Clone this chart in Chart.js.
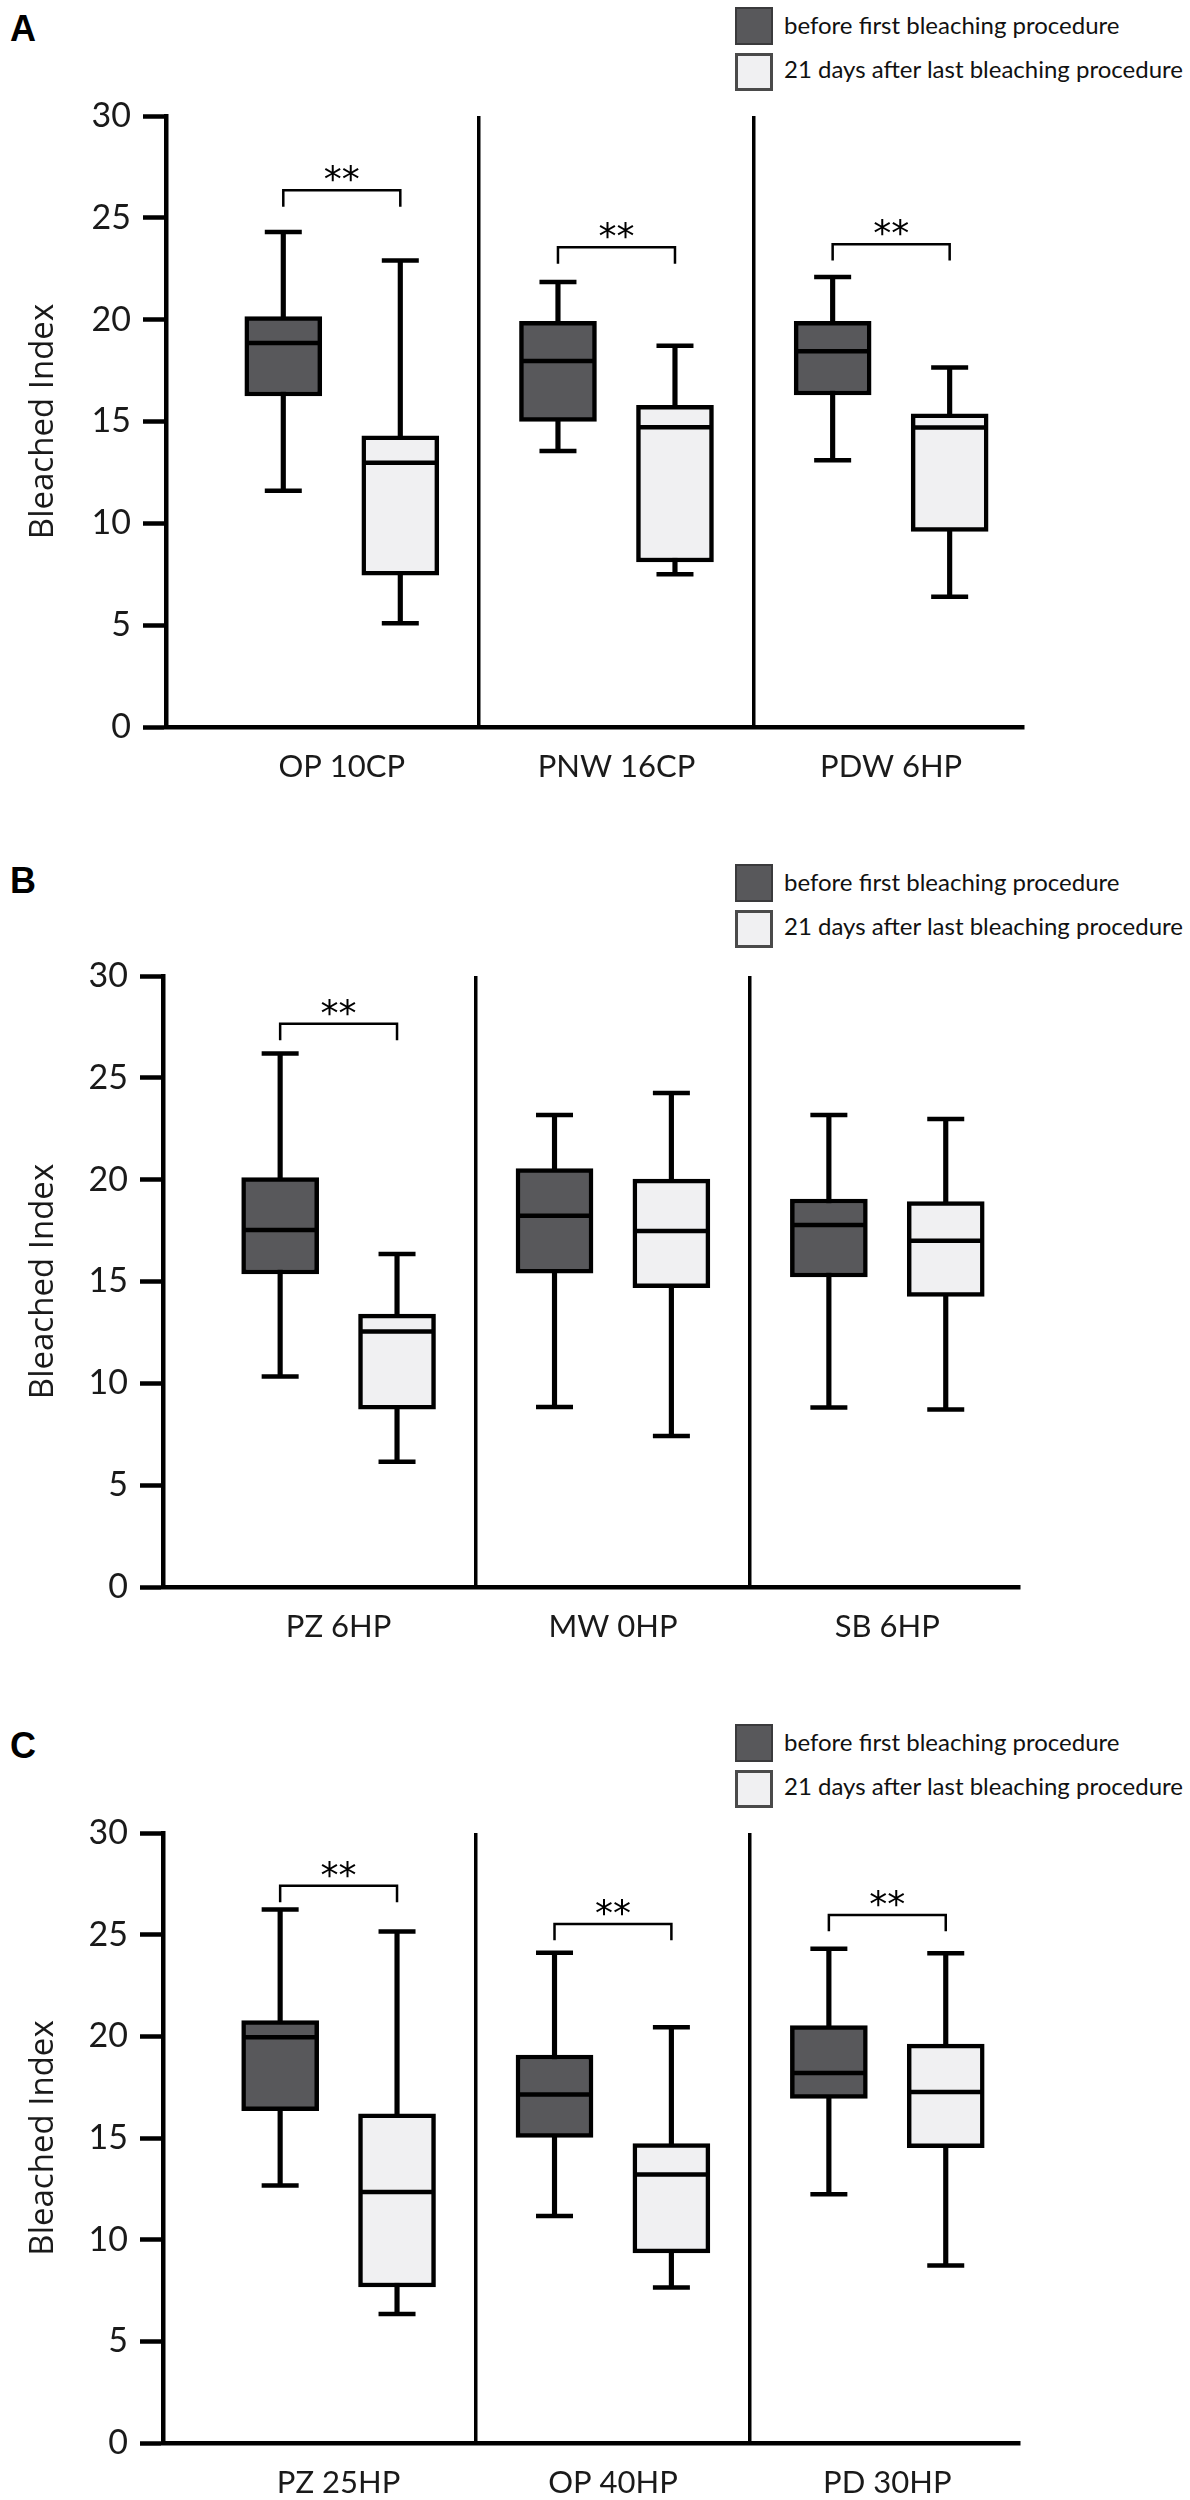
<!DOCTYPE html>
<html>
<head>
<meta charset="utf-8">
<script src="https://cdn.jsdelivr.net/npm/chart.js@4.4.1/dist/chart.umd.min.js"></script>
<style>
  html, body { margin: 0; padding: 0; background: #fff; overflow: hidden; }
  #page { position: relative; width: 1190px; height: 2500px; }
  canvas { position: absolute; left: 0; }
  .letter { position: absolute; left: 10px; font: bold 36px 'Liberation Sans', Arial, sans-serif; line-height: 36px; color: #000; }
  .swatch { position: absolute; width: 38px; height: 38px; box-sizing: border-box; }
  .swatch.before { background: #58585b; border: 2px solid #3a3a3c; }
  .swatch.after { background: #f0f0f2; border: 3px solid #4a4a4a; }
  .legend-text { position: absolute; left: 784px; font-family: Lato, sans-serif; font-size: 24px; line-height: 24px; color: #111; white-space: nowrap; }
</style>
</head>
<body>
<div id="page"></div>
<script>
const legendLabels = ['before first bleaching procedure', '21 days after last bleaching procedure'];
const panelLetters = ['A', 'B', 'C'];
const groupPositions = [1, 2, 3];
const separators = [1.5, 2.5];

// each box: [min, q1, median, q3, max]
const categoriesA = ['OP 10CP', 'PNW 16CP', 'PDW 6HP'];
const beforeA = [[11.6, 16.25, 18.85, 20.15, 24.3], [13.55, 15.0, 17.97, 19.92, 21.85], [13.1, 16.3, 18.45, 19.92, 22.1]];
const afterA = [[5.1, 7.45, 12.98, 14.3, 22.9], [7.5, 8.1, 14.72, 15.8, 18.72], [6.4, 9.6, 14.7, 15.38, 17.65]];
const signifA = [26.35, 23.55, 23.7];

const categoriesB = ['PZ 6HP', 'MW 0HP', 'SB 6HP'];
const beforeB = [[10.33, 15.37, 17.53, 20.1, 26.19], [8.84, 15.41, 18.23, 20.54, 23.17], [8.81, 15.22, 17.77, 19.05, 23.18]];
const afterB = [[6.15, 8.73, 12.55, 13.4, 16.35], [7.41, 14.7, 17.48, 20.03, 24.25], [8.72, 14.27, 17.0, 18.93, 22.98]];
const signifB = [27.65, null, null];

const categoriesC = ['PZ 25HP', 'OP 40HP', 'PD 30HP'];
const beforeC = [[12.67, 16.35, 19.96, 20.77, 26.24], [11.17, 15.03, 17.14, 19.08, 24.11], [12.23, 16.95, 18.2, 20.53, 24.31]];
const afterC = [[6.35, 7.67, 12.35, 16.19, 25.16], [7.65, 9.35, 13.21, 14.72, 20.45], [8.73, 14.53, 17.26, 19.62, 24.09]];
const signifC = [27.4, 25.53, 25.97];

const panels = [
  { cats: categoriesA, before: beforeA, after: afterA, signif: signifA },
  { cats: categoriesB, before: beforeB, after: afterB, signif: signifB },
  { cats: categoriesC, before: beforeC, after: afterC, signif: signifC },
];

// where each plot area sits on the page
const frames = [
  { top: 116, bottom: 727, left: 166, right: 1023, legendTop: 7, letterTop: 11 },
  { top: 976, bottom: 1587, left: 163, right: 1019, legendTop: 864, letterTop: 863 },
  { top: 1833, bottom: 2443, left: 163, right: 1019, legendTop: 1724, letterTop: 1728 },
];

const boxOffset = 0.213;
const darkFill = '#58585b';
const lightFill = '#f0f0f2';
const ink = '#000';
const CANVAS_H = 780;
const X_AXIS_H = 50;

const bracketPlugin = {
  id: 'brackets',
  afterDatasetsDraw(chart, args, opts) {
    const { ctx, scales: { x, y } } = chart;
    ctx.save();
    ctx.strokeStyle = ink;
    ctx.fillStyle = ink;
    ctx.lineWidth = 2.5;
    ctx.font = '36px "DejaVu Sans"';
    ctx.textAlign = 'center';
    ctx.textBaseline = 'alphabetic';
    opts.values.forEach((v, i) => {
      if (v === null) return;
      const x1 = x.getPixelForValue(groupPositions[i] - boxOffset);
      const x2 = x.getPixelForValue(groupPositions[i] + boxOffset);
      const yTop = y.getPixelForValue(v);
      const yEnd = y.getPixelForValue(v - opts.drop);
      ctx.beginPath();
      ctx.moveTo(x1, yEnd);
      ctx.lineTo(x1, yTop);
      ctx.lineTo(x2, yTop);
      ctx.lineTo(x2, yEnd);
      ctx.stroke();
      ctx.fillText('**', (x1 + x2) / 2, yTop + 1);
    });
    ctx.restore();
  }
};

const page = document.getElementById('page');

function addDiv(cls, top, text) {
  const d = document.createElement('div');
  d.className = cls;
  d.style.top = top + 'px';
  if (text) d.textContent = text;
  page.appendChild(d);
  return d;
}

function buildPanel(p, frame, idx) {
  addDiv('letter', frame.letterTop, panelLetters[idx]);
  addDiv('swatch before', frame.legendTop).style.left = '735px';
  addDiv('swatch after', frame.legendTop + 46).style.left = '735px';
  addDiv('legend-text', frame.legendTop + 6, legendLabels[0]);
  addDiv('legend-text', frame.legendTop + 50, legendLabels[1]);

  const canvas = document.createElement('canvas');
  canvas.width = 1190;
  canvas.height = CANVAS_H;
  canvas.style.top = (frame.top - 116) + 'px';
  page.appendChild(canvas);

  const plotH = frame.bottom - frame.top;
  const whiskers = [], boxesBefore = [], boxesAfter = [], caps = [], medians = [];
  groupPositions.forEach((g, i) => {
    [[p.before[i], g - boxOffset, boxesBefore], [p.after[i], g + boxOffset, boxesAfter]].forEach(([s, xv, target]) => {
      whiskers.push({ x: xv, y: [s[0], s[4]] });
      target.push({ x: xv, y: [s[1], s[3]] });
      caps.push({ x: xv, y: s[0] }, { x: xv, y: s[4] });
      medians.push({ x: xv, y: s[2] });
    });
  });

  const xTickValues = [...groupPositions, ...separators].sort((a, b) => a - b);

  new Chart(canvas, {
    type: 'bar',
    data: {
      datasets: [
        { label: 'whiskers', data: whiskers, backgroundColor: ink, borderWidth: 0, barThickness: 4.5, grouped: false, order: 4 },
        { label: legendLabels[0], data: boxesBefore, backgroundColor: darkFill, borderColor: ink, borderWidth: 4.5,
          borderSkipped: false, barThickness: 77, grouped: false, order: 3 },
        { label: legendLabels[1], data: boxesAfter, backgroundColor: lightFill, borderColor: ink, borderWidth: 4.5,
          borderSkipped: false, barThickness: 77, grouped: false, order: 3 },
        { type: 'scatter', label: 'caps', data: caps, pointStyle: 'line', pointRadius: 18.5,
          pointBorderWidth: 4.5, pointBorderColor: ink, order: 2 },
        { type: 'scatter', label: 'medians', data: medians, pointStyle: 'line', pointRadius: 36,
          pointBorderWidth: 4.5, pointBorderColor: ink, order: 1 },
      ]
    },
    options: {
      responsive: false,
      animation: false,
      devicePixelRatio: 1,
      events: [],
      layout: { padding: { left: 0, top: 116, right: 1190 - frame.right, bottom: CANVAS_H - 116 - plotH - X_AXIS_H } },
      plugins: {
        legend: { display: false },
        tooltip: { enabled: false },
        brackets: { values: p.signif, drop: 0.8 },
      },
      scales: {
        x: {
          type: 'linear',
          offset: false,
          min: 0.36,
          max: 3.48,
          afterBuildTicks: (s) => { s.ticks = xTickValues.map(v => ({ value: v })); },
          afterFit: (s) => { s.height = X_AXIS_H; },
          ticks: {
            autoSkip: false, maxRotation: 0, padding: 21, color: '#1a1a1a',
            font: { family: 'Lato', size: 31 },
            callback: (v) => { const i = groupPositions.indexOf(v); return i >= 0 ? p.cats[i] : ''; }
          },
          grid: {
            offset: false, drawTicks: false, lineWidth: 3.5,
            color: (c) => (c.tick && separators.includes(c.tick.value)) ? ink : 'rgba(0,0,0,0)'
          },
          border: { display: true, color: ink, width: 4.5 }
        },
        y: {
          min: 0,
          max: 30,
          afterFit: (s) => { s.width = frame.left; },
          ticks: { stepSize: 5, padding: 12, color: '#1a1a1a', font: { family: 'Lato', size: 34 } },
          grid: { drawOnChartArea: false, drawTicks: true, tickLength: 23, tickWidth: 4.5, tickColor: ink },
          border: { display: true, color: ink, width: 4.5 },
          title: {
            display: true, text: 'Bleached Index', color: '#1a1a1a',
            font: { family: 'Open Sans', size: 33 }, padding: { top: 24, bottom: 0 }
          }
        }
      }
    },
    plugins: [bracketPlugin]
  });
}

panels.forEach((p, i) => buildPanel(p, frames[i], i));
</script>
</body>
</html>
